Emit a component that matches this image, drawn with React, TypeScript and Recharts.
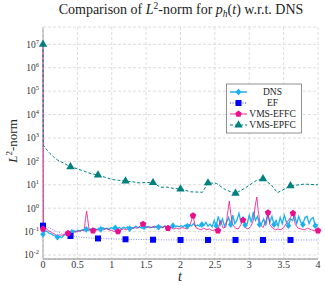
import React from "react";
import { ComposedChart, Line, Scatter, XAxis, YAxis, CartesianGrid } from "recharts";

// x ticks (t) and y decades
const xTicks = [0, 0.5, 1, 1.5, 2, 2.5, 3, 3.5, 4];
const yExps = [-2, -1, 0, 1, 2, 3, 4, 5, 6, 7];

// DNS: solid cyan line, diamond marks
const dnsLine = [
  [0, 0.077], [0.03, 0.11], [0.06, 0.1], [0.09, 0.085], [0.12, 0.08], [0.15, 0.07],
  [0.18, 0.065], [0.21, 0.058], [0.24, 0.062], [0.27, 0.055], [0.3, 0.068], [0.33, 0.075],
  [0.36, 0.09], [0.39, 0.1], [0.42, 0.095], [0.45, 0.11], [0.48, 0.1], [0.51, 0.115],
  [0.54, 0.105], [0.57, 0.12], [0.6, 0.11], [0.63, 0.125], [0.66, 0.115], [0.69, 0.13],
  [0.72, 0.12], [0.75, 0.135], [0.78, 0.12], [0.81, 0.14], [0.84, 0.125], [0.87, 0.145],
  [0.9, 0.13], [0.93, 0.14], [0.96, 0.125], [0.99, 0.15], [1.02, 0.13], [1.05, 0.145],
  [1.08, 0.135], [1.11, 0.15], [1.14, 0.13], [1.17, 0.155], [1.2, 0.14], [1.23, 0.16],
  [1.26, 0.135], [1.29, 0.15], [1.32, 0.14], [1.35, 0.17], [1.38, 0.145], [1.41, 0.155],
  [1.44, 0.14], [1.47, 0.16], [1.5, 0.15], [1.53, 0.165], [1.56, 0.145], [1.59, 0.16],
  [1.62, 0.15], [1.65, 0.17], [1.68, 0.155], [1.71, 0.165], [1.74, 0.15], [1.77, 0.175],
  [1.8, 0.16], [1.83, 0.17], [1.86, 0.155], [1.89, 0.18], [1.92, 0.16], [1.95, 0.175],
  [1.98, 0.16], [2.01, 0.18], [2.04, 0.165], [2.07, 0.19], [2.1, 0.17], [2.13, 0.2],
  [2.16, 0.175], [2.19, 0.22], [2.22, 0.17], [2.25, 0.19], [2.28, 0.165], [2.31, 0.2],
  [2.34, 0.18], [2.37, 0.25], [2.4, 0.17], [2.43, 0.21], [2.46, 0.16], [2.49, 0.3],
  [2.52, 0.18], [2.55, 0.45], [2.58, 0.2], [2.61, 0.35], [2.64, 0.17], [2.67, 0.25],
  [2.7, 0.4], [2.73, 0.2], [2.76, 0.5], [2.79, 0.22], [2.82, 0.3], [2.85, 0.6],
  [2.88, 0.25], [2.91, 0.4], [2.94, 0.19], [2.97, 0.22], [3.0, 0.5], [3.03, 0.25],
  [3.06, 0.7], [3.09, 0.3], [3.12, 0.45], [3.15, 0.2], [3.18, 0.22], [3.21, 0.35],
  [3.24, 0.18], [3.27, 0.55], [3.3, 0.25], [3.33, 0.45], [3.36, 0.2], [3.39, 0.3],
  [3.42, 0.17], [3.45, 0.4], [3.48, 0.22], [3.51, 0.5], [3.54, 0.25], [3.57, 0.18],
  [3.6, 0.35], [3.63, 0.3], [3.66, 0.5], [3.69, 0.22], [3.72, 0.45], [3.75, 0.25],
  [3.78, 0.2], [3.81, 0.4], [3.84, 0.45], [3.87, 0.22], [3.9, 0.35], [3.93, 0.4],
  [3.96, 0.18], [4.0, 0.2],
];
const dnsMarks = [
  [0, 0.077], [0.21, 0.058], [0.42, 0.095], [0.63, 0.125], [0.84, 0.125], [1.05, 0.145],
  [1.26, 0.135], [1.47, 0.16], [1.68, 0.155], [1.89, 0.18], [2.1, 0.17], [2.31, 0.2],
  [2.52, 0.18], [2.73, 0.2], [2.94, 0.19], [3.15, 0.2], [3.36, 0.2], [3.57, 0.18],
  [3.78, 0.2], [3.96, 0.18],
];

// EF: dotted blue line, square marks
const efLine = [
  [0, 0.18], [0.05, 0.16], [0.1, 0.14], [0.15, 0.12], [0.2, 0.1], [0.25, 0.088],
  [0.3, 0.078], [0.35, 0.07], [0.4, 0.065], [0.5, 0.06], [0.6, 0.056], [0.7, 0.053],
  [0.8, 0.051], [1.0, 0.049], [1.2, 0.047], [1.4, 0.046], [1.6, 0.045], [2.0, 0.044],
  [2.4, 0.044], [2.8, 0.044], [3.2, 0.044], [3.6, 0.044], [4.0, 0.044],
];
const efMarks = [
  [0, 0.18], [0.4, 0.065], [0.8, 0.051], [1.2, 0.047], [1.6, 0.045], [2.0, 0.044],
  [2.4, 0.044], [2.8, 0.044], [3.2, 0.044], [3.6, 0.044],
];

// VMS-EFFC: thin magenta line, pentagon marks
const effcLine = [
  [0, 1e7], [0.005, 0.13], [0.04, 0.14], [0.08, 0.11], [0.12, 0.095], [0.16, 0.08],
  [0.2, 0.068], [0.24, 0.072], [0.28, 0.07], [0.32, 0.08], [0.364, 0.085], [0.4, 0.09],
  [0.44, 0.1], [0.48, 0.095], [0.52, 0.105], [0.56, 0.11], [0.6, 0.12], [0.62, 0.4],
  [0.635, 0.75], [0.65, 0.35], [0.67, 0.12], [0.727, 0.11], [0.76, 0.12], [0.8, 0.115],
  [0.84, 0.13], [0.88, 0.12], [0.92, 0.135], [0.96, 0.12], [1.0, 0.11], [1.04, 0.1],
  [1.091, 0.1], [1.13, 0.12], [1.17, 0.13], [1.21, 0.12], [1.25, 0.14], [1.29, 0.13],
  [1.33, 0.15], [1.37, 0.14], [1.41, 0.17], [1.455, 0.21], [1.5, 0.15], [1.54, 0.16],
  [1.58, 0.15], [1.62, 0.17], [1.66, 0.15], [1.7, 0.16], [1.74, 0.15], [1.78, 0.17],
  [1.818, 0.14], [1.86, 0.15], [1.9, 0.13], [1.94, 0.14], [1.98, 0.13], [2.02, 0.15],
  [2.06, 0.14], [2.1, 0.13], [2.14, 0.2], [2.182, 0.48], [2.22, 0.15], [2.26, 0.13],
  [2.3, 0.12], [2.34, 0.14], [2.38, 0.12], [2.42, 0.13], [2.46, 0.11], [2.5, 0.12],
  [2.545, 0.11], [2.58, 0.3], [2.62, 0.14], [2.66, 0.16], [2.69, 0.8], [2.71, 2.0],
  [2.73, 0.6], [2.76, 0.2], [2.8, 0.14], [2.84, 0.13], [2.88, 0.2], [2.909, 0.31],
  [2.94, 0.15], [2.98, 0.13], [3.02, 0.16], [3.06, 0.3], [3.09, 1.5], [3.11, 3.0],
  [3.13, 0.8], [3.16, 0.2], [3.2, 0.15], [3.245, 0.3], [3.273, 0.65], [3.3, 0.2],
  [3.34, 0.14], [3.38, 0.12], [3.42, 0.13], [3.46, 0.12], [3.5, 0.15], [3.55, 0.25],
  [3.6, 0.4], [3.636, 0.61], [3.67, 0.2], [3.71, 0.14], [3.75, 0.13], [3.8, 0.12],
  [3.85, 0.14], [3.9, 0.12], [3.95, 0.11], [4.0, 0.11],
];
const effcMarks = [
  [0, 0.13], [0.364, 0.085], [0.727, 0.11], [1.091, 0.1], [1.455, 0.21], [1.818, 0.14],
  [2.182, 0.48], [2.545, 0.11], [2.909, 0.31], [3.273, 0.65], [3.636, 0.61], [4.0, 0.11],
];

// VMS-EPFC: dashed teal line, triangle marks
const epfcLine = [
  [0, 1e7], [0.005, 500], [0.03, 380], [0.06, 300], [0.1, 220], [0.15, 160], [0.2, 120],
  [0.25, 100], [0.3, 85], [0.35, 70], [0.4, 59], [0.5, 48], [0.62, 36], [0.7, 30],
  [0.8, 26], [0.9, 21], [1.0, 17], [1.1, 15.5], [1.2, 14.5], [1.3, 13.5], [1.4, 12],
  [1.5, 12.5], [1.6, 12.3], [1.71, 7.8], [1.8, 8], [1.9, 7], [2.0, 6.6], [2.15, 5],
  [2.32, 4.8], [2.4, 12], [2.52, 11.5], [2.66, 6], [2.8, 4.3], [2.93, 7], [3.1, 15],
  [3.2, 18], [3.32, 10], [3.41, 4.6], [3.53, 7], [3.6, 9], [3.8, 10.7], [4.0, 10],
];
const epfcMarks = [
  [0, 1e7], [0.4, 59], [0.8, 26], [1.2, 14.5], [1.6, 12.3], [2.0, 6.6], [2.4, 12],
  [2.8, 4.3], [3.2, 18], [3.6, 9],
];

const toRows = (pairs: number[][]) => pairs.map(([t, v]) => ({ t, v }));

const C_DNS = "#1cb0f0";
const C_EF = "#0000ff";
const C_EFFC = "#ec0f8c";
const C_EPFC = "#007f7f";
const FRAME = "#8a8a8a";
const FONT = "'Liberation Serif', 'DejaVu Serif', serif";

const yTicks = yExps.map((e) => Math.pow(10, e));
const minorTicks: number[] = [];
for (let e = -3; e <= 7; e++) {
  for (let m = 2; m <= 9; m++) {
    const v = m * Math.pow(10, e);
    if (v > Math.pow(10, -2.17) && v < Math.pow(10, 7.74)) minorTicks.push(v);
  }
}
const yDomain = [Math.pow(10, -2.17), Math.pow(10, 7.74)];

const Diamond = (p: any) => (
  <polygon
    points={`${p.cx},${p.cy - 3.4} ${p.cx + 2.8},${p.cy} ${p.cx},${p.cy + 3.4} ${p.cx - 2.8},${p.cy}`}
    fill={C_DNS}
  />
);
const Square = (p: any) => (
  <rect x={p.cx - 3} y={p.cy - 3} width={6} height={6} fill={C_EF} />
);
const Pentagon = (p: any) => {
  const pts = [0, 1, 2, 3, 4]
    .map((i) => {
      const a = -Math.PI / 2 + (i * 2 * Math.PI) / 5;
      return `${p.cx + 3.4 * Math.cos(a)},${p.cy + 3.4 * Math.sin(a)}`;
    })
    .join(" ");
  return <polygon points={pts} fill={C_EFFC} />;
};
const Triangle = (p: any) => (
  <polygon
    points={`${p.cx},${p.cy - 4.8} ${p.cx + 4.2},${p.cy + 2.4} ${p.cx - 4.2},${p.cy + 2.4}`}
    fill={C_EPFC}
  />
);

const YTick = (p: any) => {
  const e = Math.round(Math.log10(p.payload.value));
  return (
    <text x={p.x} y={p.y} dy="0.35em" textAnchor="end" fontSize={9.5} fill="#333" fontFamily={FONT}>
      10
      <tspan dy={-4} fontSize={6.5}>
        {e}
      </tspan>
    </text>
  );
};

const XTick = (p: any) => (
  <text x={p.x} y={p.y} dy="0.71em" textAnchor="middle" fontSize={10} fill="#333" fontFamily={FONT}>
    {p.payload.value}
  </text>
);

const legendItems = [
  { name: "DNS", color: C_DNS, dash: undefined, width: 1.5, mark: Diamond },
  { name: "EF", color: C_EF, dash: "1 1.5", width: 0.8, mark: Square },
  { name: "VMS-EFFC", color: C_EFFC, dash: undefined, width: 0.9, mark: Pentagon },
  { name: "VMS-EPFC", color: C_EPFC, dash: "3 2", width: 1, mark: Triangle },
];

export default function App() {
  return (
    <div style={{ position: "absolute", left: 0, top: 0, width: 325, height: 286, background: "#fff" }}>
      {/* left frame edge sits under the series so the t=0 jumps stay visible */}
      <svg width={325} height={286} style={{ position: "absolute", left: 0, top: 0 }}>
        <line x1={43} x2={43} y1={27} y2={259} stroke={FRAME} strokeWidth={1} />
      </svg>
      <div style={{ position: "absolute", left: 0, top: 0 }}>
        <ComposedChart width={325} height={286} margin={{ top: 27, right: 7, bottom: 0, left: 0 }}>
          <CartesianGrid stroke="#dcdcdc" strokeDasharray="3 2" />
          <XAxis
            dataKey="t"
            type="number"
            domain={[0, 4]}
            ticks={xTicks}
            height={27}
            stroke={FRAME}
            tickSize={0}
            tickMargin={2}
            tick={<XTick />}
          />
          <XAxis
            xAxisId="top"
            orientation="top"
            type="number"
            domain={[0, 4]}
            ticks={xTicks}
            height={0}
            mirror
            tickSize={3}
            tick={false}
            stroke={FRAME}
          />
          <XAxis
            xAxisId="bottomTicks"
            type="number"
            domain={[0, 4]}
            ticks={xTicks}
            height={0}
            mirror
            tickSize={3}
            tick={false}
            stroke={FRAME}
          />
          <YAxis
            scale="log"
            type="number"
            domain={yDomain}
            ticks={yTicks}
            width={43}
            axisLine={false}
            tickLine={false}
            tickSize={0}
            tickMargin={4}
            tick={<YTick />}
            interval={0}
          />
          <YAxis
            yAxisId="leftMinor"
            scale="log"
            type="number"
            domain={yDomain}
            ticks={[...yTicks, ...minorTicks]}
            width={0}
            mirror
            axisLine={false}
            tickSize={2}
            tick={false}
            interval={0}
            stroke={FRAME}
          />
          <YAxis
            yAxisId="right"
            orientation="right"
            scale="log"
            type="number"
            domain={yDomain}
            ticks={[...yTicks, ...minorTicks]}
            width={0}
            mirror
            tickSize={2}
            tick={false}
            interval={0}
            stroke={FRAME}
          />

          <Line data={toRows(dnsLine)} dataKey="v" stroke={C_DNS} strokeWidth={1.3} dot={false} activeDot={false} isAnimationActive={false} />
          <Scatter data={toRows(dnsMarks)} dataKey="v" shape={Diamond} isAnimationActive={false} />

          <Line data={toRows(efLine)} dataKey="v" stroke={C_EF} strokeOpacity={0.6} strokeWidth={0.8} strokeDasharray="1 1.5" dot={false} activeDot={false} isAnimationActive={false} />
          <Scatter data={toRows(efMarks)} dataKey="v" shape={Square} isAnimationActive={false} />

          <Line data={toRows(effcLine)} dataKey="v" stroke={C_EFFC} strokeOpacity={0.8} strokeWidth={1} dot={false} activeDot={false} isAnimationActive={false} />
          <Scatter data={toRows(effcMarks)} dataKey="v" shape={Pentagon} isAnimationActive={false} />

          <Line data={toRows(epfcLine)} dataKey="v" stroke={C_EPFC} strokeWidth={1} strokeDasharray="3 2" dot={false} activeDot={false} isAnimationActive={false} />
          <Scatter data={toRows(epfcMarks)} dataKey="v" shape={Triangle} isAnimationActive={false} />
        </ComposedChart>
      </div>

      <svg width={325} height={286} style={{ position: "absolute", left: 0, top: 0, pointerEvents: "none" }} fontFamily={FONT}>
        <text x={181} y={14} textAnchor="middle" fontSize={14} fill="#222">
          Comparison of <tspan fontStyle="italic">L</tspan>
          <tspan dy={-5} fontSize={9.5}>2</tspan>
          <tspan dy={5}>-norm for </tspan>
          <tspan fontStyle="italic">p</tspan>
          <tspan dy={3} fontSize={9.5} fontStyle="italic">h</tspan>
          <tspan dy={-3}>(</tspan>
          <tspan fontStyle="italic">t</tspan>
          <tspan>) w.r.t. DNS</tspan>
        </text>
        <text transform="translate(17,141) rotate(-90)" textAnchor="middle" fontSize={13} fill="#222">
          <tspan fontStyle="italic">L</tspan>
          <tspan dy={-5} fontSize={9}>2</tspan>
          <tspan dy={5}>-norm</tspan>
        </text>
        <text x={180} y={281} textAnchor="middle" fontSize={14} fontStyle="italic" fill="#222">
          t
        </text>

        <rect x={226.5} y={84} width={75} height={49} fill="#fff" stroke="#777" strokeWidth={0.8} />
        {legendItems.map((it, i) => {
          const y = 92 + i * 11;
          const M = it.mark;
          return (
            <g key={it.name}>
              <line x1={230} x2={247} y1={y} y2={y} stroke={it.color} strokeWidth={it.width} strokeDasharray={it.dash} />
              <M cx={238.5} cy={y} />
              <text x={272.5} y={y} dy="0.35em" textAnchor="middle" fontSize={9.5} fill="#222">
                {it.name}
              </text>
            </g>
          );
        })}
      </svg>
    </div>
  );
}
